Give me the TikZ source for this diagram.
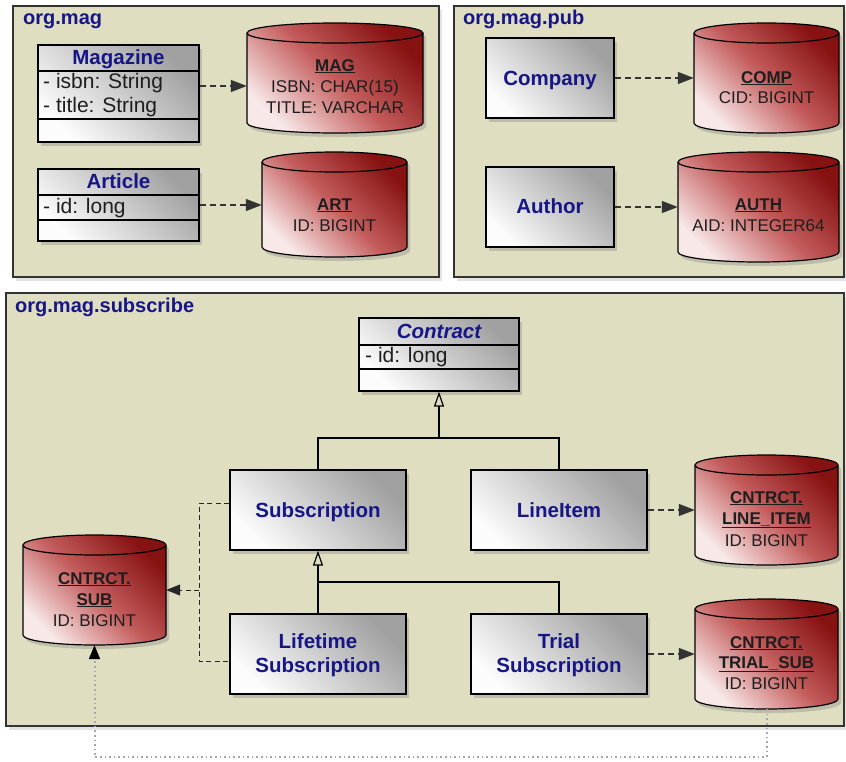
\documentclass[tikz,border=0pt]{standalone}
\usepackage{fontspec}
\setmainfont{Liberation Sans}
\usetikzlibrary{shadows,arrows.meta,calc}
\definecolor{pkgfill}{RGB}{224,222,192}
\definecolor{navy}{RGB}{22,22,135}
\definecolor{dkred}{RGB}{135,18,18}
\definecolor{ltred}{RGB}{248,232,232}
\definecolor{ltgray}{RGB}{252,252,252}
\definecolor{dkgray}{RGB}{160,160,160}
\definecolor{txt}{RGB}{30,30,30}
\tikzset{
  pkg/.style={draw=black!80, line width=1.3pt, fill=pkgfill,
    drop shadow={opacity=0.22, shadow xshift=3pt, shadow yshift=-4pt}},
  pkglabel/.style={anchor=base west, text=navy, font=\fontsize{20}{22}\selectfont\bfseries, inner sep=0},
  cls/.style={draw=black, line width=1.2pt, top color=dkgray, bottom color=ltgray, shading angle=-45,
    drop shadow={opacity=0.35, shadow xshift=3pt, shadow yshift=-4pt}, inner sep=0},
  cyl/.style={draw=black, line width=1.2pt, top color=dkred, bottom color=ltred, middle color={rgb,255:red,196;green,92;blue,92}, shading angle=-45,
    drop shadow={opacity=0.35, shadow xshift=3pt, shadow yshift=-4pt}},
  cline/.style={draw=black, line width=1.2pt},
  clsname/.style={anchor=base, text=navy, font=\fontsize{20.5}{24}\selectfont\bfseries, inner sep=0},
  attr/.style={anchor=base west, text=txt, font=\fontsize{21}{24}\selectfont, inner sep=0},
  tbl/.style={anchor=base, text=txt, font=\fontsize{17}{20}\selectfont, inner sep=0},
  tblname/.style={anchor=base, text=txt, font=\fontsize{17}{20}\selectfont\bfseries, inner sep=0},
  dep/.style={draw=black!80, line width=1.3pt, dash pattern=on 6pt off 4pt, -{Triangle[length=16pt,width=12pt]}},
  depthin/.style={draw=black!85, line width=1pt, dash pattern=on 5pt off 3.5pt},
  inh/.style={draw=black, line width=1.2pt, -{Triangle[open,length=15pt,width=10pt]}},
  dotl/.style={draw=black!35, line width=2pt, dash pattern=on 1.6pt off 3pt, -{Triangle[length=14pt,width=11pt,color=black]}},
}
\newcommand{\dbcyl}[5]{%
  \pgfmathsetmacro\cylrx{(#4-#2)/2}%
  \pgfmathsetmacro\cylw{#4-#2}%
  \pgfmathsetmacro\cylh{#5-#3}%
  \draw[cyl] (#2,#3+10) -- (#2,#5-10) arc[start angle=180,end angle=360,x radius=\cylrx pt,y radius=10pt]
    -- (#4,#3+10) arc[start angle=0,end angle=180,x radius=\cylrx pt,y radius=10pt] -- cycle;
  \draw[line width=1.2pt] (#2,#3+10) arc[start angle=180,end angle=360,x radius=\cylrx pt,y radius=10pt];
  \node[minimum width=\cylw pt, minimum height=\cylh pt, inner sep=0] (#1) at ({(#2+#4)/2},{(#3+#5)/2}) {};
}
\begin{document}
\begin{tikzpicture}[x=1pt,y=-1pt]
\fill[white] (0,0) rectangle (846,761);
\useasboundingbox (0,0) rectangle (846,761);

% packages
\draw[pkg] (13,6) rectangle (439,277);
\draw[pkg] (454,6) rectangle (844,277);
\draw[pkg] (6,293) rectangle (844,726);
\node[pkglabel] (lbl1) at (23,24) {org.mag};
\node[pkglabel] (lbl2) at (463,24) {org.mag.pub};
\node[pkglabel] (lbl3) at (15,312) {org.mag.subscribe};

% org.mag
\node[cls, minimum width=161pt, minimum height=97pt] (magazine) at (118.5,93.5) {};
\draw[cline] (magazine.west |- 0,71) -- (magazine.east |- 0,71);
\draw[cline] (magazine.west |- 0,119) -- (magazine.east |- 0,119);
\node[clsname] (magname) at (118.5,64) {Magazine};
\node[attr] (magattr1) at (43,88) {- isbn: String};
\node[attr] (magattr2) at (43,112) {- title: String};

\node[cls, minimum width=161pt, minimum height=72pt] (article) at (118.5,205) {};
\draw[cline] (article.west |- 0,195) -- (article.east |- 0,195);
\draw[cline] (article.west |- 0,220) -- (article.east |- 0,220);
\node[clsname] (artname) at (118.5,188) {Article};
\node[attr] (artattr1) at (43,213) {- id: long};

\dbcyl{mag}{247}{23}{423}{133}
\node[tblname] (mag1) at (335,71) {\underline{MAG}};
\node[tbl] (mag2) at (335,92) {ISBN: CHAR(15)};
\node[tbl] (mag3) at (335,113) {TITLE: VARCHAR};

\dbcyl{art}{262}{152}{407}{257}
\node[tblname] (art1) at (334.5,210) {\underline{ART}};
\node[tbl] (art2) at (334.5,231) {ID: BIGINT};

\draw[dep] (magazine.east |- 0,86) -- (mag.west |- 0,86);
\draw[dep] (article.east) -- (art.west |- article.east);

% org.mag.pub
\node[cls, minimum width=128pt, minimum height=80pt] (company) at (550,78) {};
\node[clsname] (compname) at (550,85) {Company};
\node[cls, minimum width=128pt, minimum height=80pt] (author) at (550,207) {};
\node[clsname] (authname) at (550,213) {Author};

\dbcyl{comp}{694}{23}{839}{133}
\node[tblname] (comp1) at (766.5,83) {\underline{COMP}};
\node[tbl] (comp2) at (766.5,103) {CID: BIGINT};

\dbcyl{auth}{678}{152}{839}{262}
\node[tblname] (auth1) at (758.5,210) {\underline{AUTH}};
\node[tbl] (auth2) at (758.5,231) {AID: INTEGER64};

\draw[dep] (company.east) -- (comp.west |- company.east);
\draw[dep] (author.east) -- (auth.west |- author.east);

% org.mag.subscribe
\node[cls, minimum width=160pt, minimum height=73pt] (contract) at (439,354.5) {};
\draw[cline] (contract.west |- 0,345) -- (contract.east |- 0,345);
\draw[cline] (contract.west |- 0,369) -- (contract.east |- 0,369);
\node[clsname, font=\fontsize{20.5}{24}\selectfont\bfseries\itshape] (conname) at (439,338) {Contract};
\node[attr] (conattr1) at (365,362) {- id: long};

\node[cls, minimum width=176pt, minimum height=80pt] (subscription) at (318,510) {};
\node[clsname] (subname) at (318,517) {Subscription};
\node[cls, minimum width=176pt, minimum height=80pt] (lineitem) at (559,510) {};
\node[clsname] (liname) at (559,517) {LineItem};
\node[cls, minimum width=176pt, minimum height=80pt] (lifetime) at (318,654) {};
\node[clsname] (ltname1) at (318,648) {Lifetime};
\node[clsname] (ltname2) at (318,672) {Subscription};
\node[cls, minimum width=176pt, minimum height=80pt] (trial) at (559,654) {};
\node[clsname] (trname1) at (559,648) {Trial};
\node[clsname] (trname2) at (559,672) {Subscription};

\dbcyl{sub}{23}{535}{166}{645}
\node[tblname] (sub1) at (94.5,584) {\underline{CNTRCT.}};
\node[tblname] (sub2) at (94.5,605) {\underline{SUB}};
\node[tbl] (sub3) at (94.5,626) {ID: BIGINT};

\dbcyl{litem}{695}{455}{838}{565}
\node[tblname] (litem1) at (766.5,503) {\underline{CNTRCT.}};
\node[tblname] (litem2) at (766.5,524) {\underline{LINE\_ITEM}};
\node[tbl] (litem3) at (766.5,546) {ID: BIGINT};

\dbcyl{trialsub}{695}{599}{838}{709}
\node[tblname] (ts1) at (766.5,648) {\underline{CNTRCT.}};
\node[tblname] (ts2) at (766.5,668) {\underline{TRIAL\_SUB}};
\node[tbl] (ts3) at (766.5,689) {ID: BIGINT};

% inheritance
\coordinate (uj) at (439,438);
\draw[cline] (subscription.north) |- (uj) -| (lineitem.north);
\draw[inh] (uj) -- (contract.south);
\coordinate (lj) at (318,582);
\draw[cline] (trial.north) |- (lj);
\draw[inh] (lifetime.north) -- (subscription.south);

% mappings
\draw[dep] (lineitem.east) -- (litem.west |- lineitem.east);
\draw[dep] (trial.east) -- (trialsub.west |- trial.east);
\coordinate (sj) at (199,590);
\draw[depthin] ($(subscription.west)+(0,-7)$) -| (sj) |- ($(lifetime.west)+(0,7)$);
\draw[depthin, -{Triangle[length=14pt,width=11pt]}] (sj) -- (sub.east |- sj);

\draw[dotl] (trialsub.south) -- ++(0,48) -| (sub.south);
\end{tikzpicture}
\end{document}
